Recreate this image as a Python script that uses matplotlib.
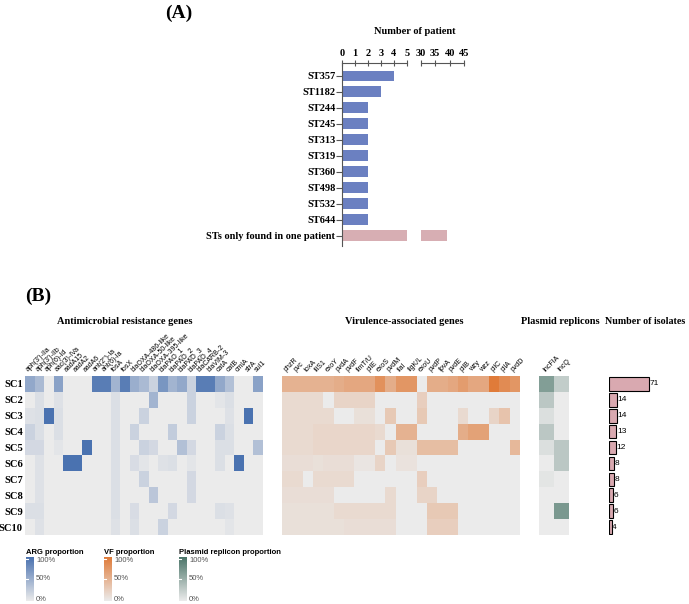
import numpy as np
import matplotlib
matplotlib.use('Agg')
import matplotlib.pyplot as plt
from matplotlib.colors import LinearSegmentedColormap

# %% data
st_labels = ['ST357', 'ST1182', 'ST244', 'ST245', 'ST313', 'ST319', 'ST360',
             'ST498', 'ST532', 'ST644', 'STs only found in one patient']
st_counts = [4, 3, 2, 2, 2, 2, 2, 2, 2, 2, 39]

clusters = ['SC1', 'SC2', 'SC3', 'SC4', 'SC5', 'SC6', 'SC7', 'SC8', 'SC9', 'SC10']
isolates = [71, 14, 14, 13, 12, 8, 8, 6, 6, 4]

arg_genes = ["aph(3')-IIa", "aph(3')-IIb", "aph(6)-Id", "aac(3)-IVa", "aadA15",
             "aadA2", "aadA6", "ant(2'')-Ia", "ant(6)-Ia", "fosA", "fosX",
             "blaOXA-486-like", "blaOXA-50-like", "blaOXA-395-like", "blaPAO_1",
             "blaPAO_2", "blaPAO_3", "blaPAO_4", "blaCARB-2", "blaVIM-3",
             "catA", "catB", "cmlA", "strA", "sul1"]
vf_genes = ['phzR', 'pvc', 'toxA', 'fliS1', 'exoY', 'pvdA', 'pvdF', 'fimT/U',
            'pilE', 'exoS', 'pvdM', 'flaI', 'flgK/L', 'exoU', 'pvdP', 'fpvA',
            'pvdE', 'pilB', 'wzy', 'wzz', 'pilC', 'pilA', 'pvdD']
plasmids = ['IncFIA', 'IncQ']

arg_prop = [
    [0.55, 0.4, 0, 0.6, 0, 0, 0, 0.9, 0.9, 0.45, 0.9, 0.5, 0.4, 0.2, 0.7, 0.45, 0.55, 0.2, 0.9, 0.9, 0.55, 0.35, 0, 0, 0.6],
    [0, 0.1, 0, 0.08, 0, 0, 0, 0, 0, 0.1, 0, 0, 0, 0.45, 0, 0, 0, 0.2, 0, 0, 0.05, 0.1, 0, 0, 0],
    [0.08, 0.1, 1.0, 0.1, 0, 0, 0, 0, 0, 0.1, 0, 0, 0.2, 0, 0, 0, 0, 0.2, 0, 0, 0, 0.08, 0, 1.0, 0],
    [0.2, 0.1, 0, 0.1, 0, 0, 0, 0, 0, 0.1, 0, 0.2, 0, 0, 0, 0.25, 0, 0, 0, 0, 0.2, 0.1, 0, 0, 0],
    [0.15, 0.15, 0, 0.05, 0, 0, 1.0, 0, 0, 0.1, 0, 0, 0.2, 0.15, 0, 0, 0.35, 0.15, 0, 0, 0.1, 0.1, 0, 0, 0.35],
    [0, 0.08, 0, 0, 1.0, 1.0, 0, 0, 0, 0.1, 0, 0.12, 0.05, 0, 0.08, 0.1, 0, 0.05, 0, 0, 0.1, 0, 1.0, 0, 0],
    [0, 0.08, 0, 0, 0, 0, 0, 0, 0, 0.1, 0, 0, 0.2, 0, 0, 0, 0, 0.15, 0, 0, 0, 0, 0, 0, 0],
    [0, 0.08, 0, 0, 0, 0, 0, 0, 0, 0.1, 0, 0, 0, 0.3, 0, 0, 0, 0.15, 0, 0, 0, 0, 0, 0, 0],
    [0.1, 0.1, 0, 0, 0, 0, 0, 0, 0, 0.1, 0, 0.12, 0, 0, 0, 0.15, 0, 0, 0, 0, 0.1, 0.08, 0, 0, 0],
    [0, 0.08, 0, 0, 0, 0, 0, 0, 0, 0.08, 0, 0.1, 0, 0, 0.2, 0, 0, 0, 0, 0, 0, 0.05, 0, 0, 0],
]

vf_prop = [
    [0.5, 0.5, 0.5, 0.5, 0.5, 0.55, 0.6, 0.6, 0.6, 0.8, 0.55, 0.75, 0.75, 0, 0.55, 0.55, 0.6, 0.7, 0.6, 0.6, 1.0, 0.85, 0.75],
    [0.15, 0.15, 0.15, 0.15, 0, 0.2, 0.2, 0.2, 0.2, 0, 0, 0, 0, 0.25, 0, 0, 0, 0, 0, 0, 0, 0, 0],
    [0.15, 0.15, 0.15, 0.15, 0.15, 0, 0, 0.1, 0.1, 0, 0.3, 0, 0, 0.3, 0, 0, 0, 0.15, 0, 0, 0.2, 0.35, 0],
    [0.15, 0.15, 0.15, 0.18, 0.18, 0.18, 0.18, 0.18, 0.18, 0.15, 0, 0.5, 0.5, 0, 0, 0, 0, 0.55, 0.65, 0.65, 0, 0, 0],
    [0.15, 0.15, 0.15, 0.18, 0.18, 0.18, 0.18, 0.18, 0.18, 0, 0.3, 0.1, 0.1, 0.4, 0.4, 0.4, 0.4, 0, 0, 0, 0, 0, 0.45],
    [0.12, 0.12, 0.12, 0.1, 0.12, 0.12, 0.12, 0.05, 0.05, 0.2, 0, 0.08, 0.08, 0, 0, 0, 0, 0, 0, 0, 0, 0, 0],
    [0.15, 0.15, 0, 0.15, 0.15, 0.15, 0.15, 0, 0, 0, 0, 0, 0, 0.25, 0, 0, 0, 0, 0, 0, 0, 0, 0],
    [0.12, 0.12, 0.12, 0.12, 0.12, 0, 0, 0, 0, 0, 0.15, 0, 0, 0.2, 0.2, 0, 0, 0, 0, 0, 0, 0, 0],
    [0.1, 0.1, 0.1, 0.1, 0.1, 0.15, 0.15, 0.15, 0.15, 0.15, 0.15, 0, 0, 0, 0.3, 0.3, 0.3, 0, 0, 0, 0, 0, 0],
    [0.1, 0.1, 0.1, 0.1, 0.1, 0.1, 0.12, 0.12, 0.12, 0.12, 0.12, 0, 0, 0, 0.25, 0.25, 0.25, 0, 0, 0, 0, 0, 0],
]

plasmid_prop = [[0.65, 0.25], [0.3, 0], [0.1, 0], [0.3, 0], [0.1, 0.3],
                [0, 0.3], [0.05, 0], [0, 0], [0, 0.7], [0, 0]]

# %% setup
W, H = 689, 604
fig = plt.figure(figsize=(W / 100, H / 100), dpi=100)
serif = 'Liberation Serif'
sans = 'Liberation Sans'
grey = '#555555'

def add_px_axes(x0, y0, x1, y1):
    return fig.add_axes([x0 / W, 1 - y1 / H, (x1 - x0) / W, (y1 - y0) / H])

# %% panel A: broken axis bar chart
fig.text(165 / W, 1 - 13 / H, '(A)', fontsize=14, fontweight='bold', family=serif,
         ha='left', va='center')
fig.text(415 / W, 1 - 31 / H, 'Number of patient', fontsize=7.5, fontweight='bold',
         family=serif, ha='center', va='center')

axL = add_px_axes(342.3, 63, 406.7, 246)
axR = add_px_axes(420.7, 63, 464.3, 246)
ypos = np.arange(len(st_labels))
bar_cols = ['#6B80C1'] * (len(st_labels) - 1) + ['#D7AEB3']
for ax in (axL, axR):
    ax.barh(ypos, st_counts, height=0.68, color=bar_cols)
    ax.set_ylim(10.65, -0.81)
    ax.xaxis.tick_top()
    ax.spines['bottom'].set_visible(False)
    ax.spines['right'].set_visible(False)
    ax.spines['top'].set_color(grey)
    ax.spines['left'].set_color(grey)
    ax.tick_params(axis='x', direction='inout', length=5, color=grey, pad=1,
                   labelsize=7.5)
axL.set_xlim(0, 5)
axL.set_xticks(range(6))
axR.set_xlim(30, 45)
axR.set_xticks([30, 35, 40, 45])
for ax in (axL, axR):
    for t in ax.get_xticklabels():
        t.set_fontweight('bold')
        t.set_family(serif)
        t.set_fontsize(7.5)
axR.spines['left'].set_visible(False)
axR.set_yticks([])
axL.set_yticks(ypos)
axL.set_yticklabels(st_labels, fontsize=7.5, fontweight='bold', family=serif)
axL.tick_params(axis='y', length=4, color=grey, pad=1)

# %% panel B: heatmaps
fig.text(25 / W, 1 - 296 / H, '(B)', fontsize=14, fontweight='bold', family=serif,
         ha='left', va='center')

cmap_arg = LinearSegmentedColormap.from_list('arg', ['#EBEBEB', '#4A72B0'])
cmap_vf = LinearSegmentedColormap.from_list('vf', ['#EBEBEB', '#E07B39'])
cmap_pl = LinearSegmentedColormap.from_list('pl', ['#EBEBEB', '#4B7569'])

blocks = [
    (25, 263, arg_prop, arg_genes, cmap_arg, 'Antimicrobial resistance genes', 125),
    (282.3, 520, vf_prop, vf_genes, cmap_vf, 'Virulence-associated genes', 404),
    (539.3, 569.3, plasmid_prop, plasmids, cmap_pl, 'Plasmid replicons', 560),
]
for i, (x0, x1, mat, genes, cmap, title, tx) in enumerate(blocks):
    ax = add_px_axes(x0, 376, x1, 535)
    ax.imshow(np.array(mat), cmap=cmap, vmin=0, vmax=1, aspect='auto',
              interpolation='nearest')
    ax.xaxis.tick_top()
    ax.set_xticks(range(len(genes)))
    ax.set_xticklabels(genes, rotation=45, ha='left', rotation_mode='anchor',
                       fontsize=5, family=sans)
    ax.tick_params(length=0, pad=2)
    if i == 0:
        ax.set_yticks(range(len(clusters)))
        ax.set_yticklabels(clusters, fontsize=7.6, fontweight='bold', family=serif)
        ax.tick_params(axis='y', pad=1.5)
    else:
        ax.set_yticks([])
    for s in ax.spines.values():
        s.set_visible(False)
    fig.text(tx / W, 1 - 322 / H, title, fontsize=7.5, fontweight='bold',
             family=serif, ha='center', va='center')

fig.text(645 / W, 1 - 322 / H, 'Number of isolates', fontsize=7.2, fontweight='bold',
         family=serif, ha='center', va='center')

# isolate count bars
axB = add_px_axes(609.3, 376, 680, 535)
yb = np.arange(len(clusters))
axB.barh(yb, isolates, height=0.85, color='#D9A9B0', edgecolor='black', linewidth=0.8)
for yy, v in zip(yb, isolates):
    axB.text(v + 1.2, yy, str(v), fontsize=6, family=sans, va='center', ha='left')
axB.set_xlim(0, 127.7)
axB.set_ylim(len(clusters) - 0.5, -0.5)
axB.axis('off')

# %% legends
legends = [(26, 'ARG proportion', cmap_arg), (104, 'VF proportion', cmap_vf),
           (179, 'Plasmid replicon proportion', cmap_pl)]
grad = np.linspace(1, 0, 100).reshape(-1, 1)
for x0, title, cmap in legends:
    fig.text(x0 / W, 1 - 553 / H, title, fontsize=5.5, fontweight='bold',
             family=sans, ha='left', va='center')
    axc = add_px_axes(x0, 557, x0 + 8, 601)
    axc.imshow(grad, cmap=cmap, vmin=0, vmax=1, aspect='auto',
               extent=[0, 1, 0, 1])
    axc.plot([0, 0.3], [0.5, 0.5], color='white', lw=0.8)
    axc.plot([0, 0.3], [0.96, 0.96], color='white', lw=0.8)
    axc.set_xlim(0, 1)
    axc.set_ylim(0, 1)
    axc.axis('off')
    for yy, lab in [(0.93, '100%'), (0.5, '50%'), (0.04, '0%')]:
        axc.text(1.25, yy, lab, fontsize=5.5, family=sans, color=grey,
                 va='center', ha='left', transform=axc.transAxes)

plt.savefig('out.png', dpi=100)
